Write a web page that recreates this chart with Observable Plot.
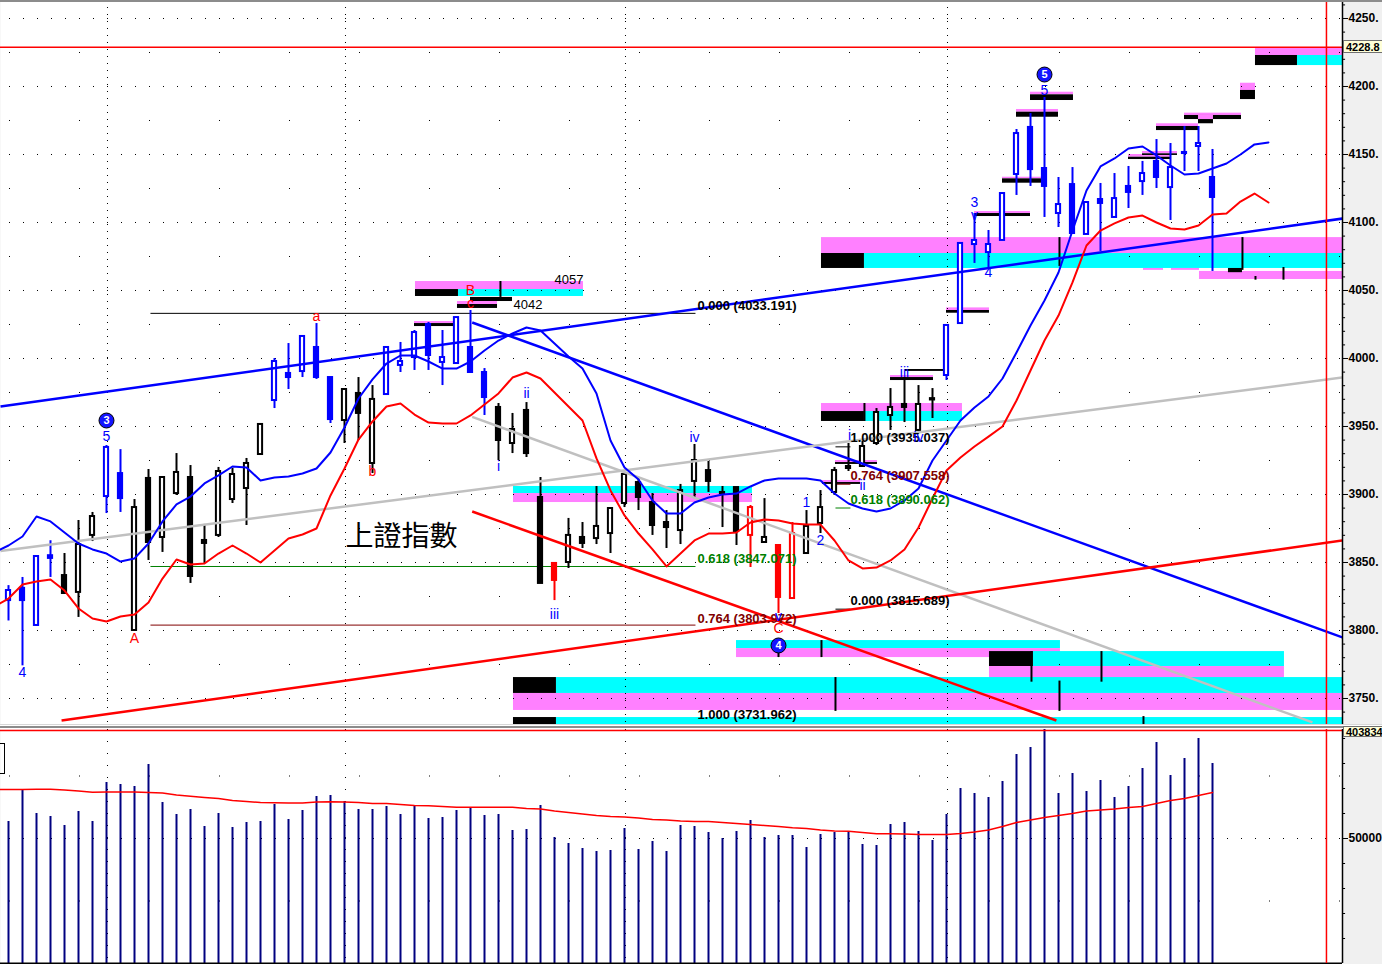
<!DOCTYPE html>
<html>
<head>
<meta charset="utf-8">
<script src="https://cdn.jsdelivr.net/npm/d3@7"></script>
<script src="https://cdn.jsdelivr.net/npm/@observablehq/plot@0.6"></script>
<style>
  html, body { margin: 0; padding: 0; background: #ffffff; overflow: hidden; }
  #wrap { position: relative; width: 1382px; height: 964px; overflow: hidden; font-family: "Liberation Sans", Arial, sans-serif; }
  #wrap svg { display: block; }
  .sep { height: 5px; background: linear-gradient(#d8d8d8 0 1px, #ffffff 1px 2px, #8c8c8c 2px 4px, #ffffff 4px 5px); }
  .topbar { position: absolute; left: 0; top: 0; width: 1382px; height: 2px; background: #8c8c8c; }
  .tag { position: absolute; left: 1343px; width: 60px; height: 13px; line-height: 12px; background: #ffffd8; border: 1px solid #707070; font: bold 11px "Liberation Sans", Arial, sans-serif; padding-left: 2px; box-sizing: border-box; color: #000; white-space: nowrap; }
  .legendbox { position: absolute; left: -1px; width: 6px; height: 31px; border: 1px solid #000; box-sizing: border-box; }
</style>
</head>
<body>
<div id="wrap"></div>
<script>
(function () {
// ---------- candle data (one entry per session, index 0..86) ----------
const openP = [3822.0, 3831.0, 3803.7, 3855.0, 3840.4, 3828.0, 3869.9, 3898.5, 3915.4, 3800.0,
 3911.8, 3868.4, 3900.7, 3912.5, 3866.2, 3869.9, 3896.3, 3904.4, 3929.4, 3969.1,
 3989.0, 3990.4, 4008.1, 3986.0, 3954.4, 3974.3, 3922.8, 3973.5, 3994.9, 4000.7,
 4025.0, 3997.1, 3996.3, 4008.1, 3989.7, 3964.0, 3937.5, 3961.8, 3897.8, 3849.3,
 3850.0, 3868.4, 3867.6, 3871.3, 3893.4, 3908.8, 3894.1, 3879.4, 3873.5, 3909.6,
 3917.6, 3901.5, 3905.1, 3869.9, 3864.7, 3862.5, 3823.5, 3856.6, 3878.7, 3901.5,
 3920.6, 3920.6, 3937.5, 3958.1, 3966.2, 3947.1, 3970.5, 3987.5, 4025.7, 4083.8,
 4077.9, 4086.8, 4135.3, 4169.9, 4139.7, 4106.6, 4127.9, 4091.2, 4116.9, 4103.7,
 4126.5, 4130.1, 4144.9, 4125.7, 4151.5, 4155.9, 4133.1];
const closeP = [3829.4, 3822.0, 3854.4, 3853.0, 3827.2, 3863.2, 3883.8, 3934.6, 3897.0, 3890.4,
 3864.7, 3912.5, 3916.2, 3839.7, 3864.0, 3916.9, 3914.7, 3922.8, 3951.5, 3997.8,
 3986.0, 4016.2, 3986.0, 3955.1, 3977.2, 3959.6, 3969.9, 4008.1, 3997.8, 4019.1,
 4002.2, 4000.7, 4030.1, 3989.7, 3971.3, 3939.7, 3947.8, 3930.1, 3834.6, 3836.8,
 3869.9, 3864.0, 3876.5, 3889.7, 3914.7, 3897.8, 3877.2, 3875.7, 3902.9, 3925.0,
 3909.6, 3900.7, 3872.8, 3890.4, 3868.4, 3824.3, 3871.3, 3876.5, 3890.4, 3917.6,
 3919.1, 3935.3, 3960.3, 3964.0, 3964.0, 3966.2, 3969.5, 4024.3, 4084.6, 4086.8,
 4083.8, 4121.3, 4165.4, 4138.9, 4126.5, 4113.2, 4091.9, 4114.7, 4114.0, 4117.6,
 4122.1, 4136.0, 4133.1, 4140.4, 4150.7, 4158.1, 4118.4];
const highP = [3833.0, 3839.0, 3855.0, 3866.0, 3856.6, 3880.9, 3886.8, 3936.0, 3933.0, 3896.3,
 3918.4, 3912.5, 3930.1, 3921.3, 3878.0, 3919.9, 3919.1, 3926.5, 3951.5, 4000.0,
 4011.0, 4016.2, 4025.7, 3986.0, 3977.2, 3986.0, 3980.1, 4008.1, 4011.8, 4020.6,
 4026.5, 4020.6, 4030.1, 4035.3, 3992.6, 3966.9, 3959.6, 3967.6, 3912.5, 3849.3,
 3882.4, 3879.4, 3905.9, 3889.7, 3915.0, 3912.5, 3900.7, 3888.2, 3907.4, 3936.8,
 3924.3, 3905.9, 3905.1, 3891.9, 3897.0, 3862.5, 3879.4, 3888.2, 3902.9, 3919.9,
 3937.5, 3940.4, 3963.2, 3977.9, 3986.0, 3980.1, 3977.9, 4024.3, 4084.6, 4106.6,
 4094.1, 4121.3, 4168.4, 4180.1, 4191.9, 4133.1, 4140.4, 4114.7, 4128.7, 4136.0,
 4141.2, 4144.9, 4161.0, 4158.1, 4170.6, 4170.6, 4153.7];
const lowP = [3807.0, 3774.0, 3803.0, 3839.0, 3827.2, 3809.6, 3865.4, 3886.0, 3886.8, 3800.0,
 3851.5, 3857.4, 3899.3, 3834.6, 3849.3, 3868.4, 3893.4, 3877.2, 3929.4, 3963.2,
 3977.2, 3986.0, 3984.6, 3952.2, 3937.5, 3939.7, 3915.4, 3973.5, 3989.7, 3991.2,
 3991.2, 3980.1, 3996.3, 3989.7, 3958.1, 3925.0, 3930.1, 3927.2, 3834.6, 3822.0,
 3845.6, 3860.3, 3863.2, 3856.6, 3890.4, 3888.2, 3869.9, 3860.3, 3863.2, 3897.8,
 3901.5, 3875.7, 3862.5, 3846.3, 3864.7, 3812.5, 3823.5, 3856.6, 3871.3, 3899.3,
 3916.9, 3920.0, 3936.0, 3947.1, 3952.9, 3947.1, 3955.9, 3983.8, 4025.7, 4069.9,
 4066.9, 4086.8, 4119.9, 4126.5, 4103.7, 4096.3, 4091.9, 4091.2, 4078.7, 4103.7,
 4110.3, 4119.9, 4125.0, 4101.5, 4137.5, 4137.5, 4064.0];
// b = blue, k = black, r = red (wave colouring of each candle)
const candleTone = ("bbbb" + "kkk" + "bb" + "kkkkkkkkkk" + "bbbbb" + "kkk" + "bbbbbbbb" + "kkkk" + "r" +
  "kkkkkkkkkkkkk" + "r" + "k" + "rr" + "kkkkkkkkkk" + "bbbbbbbbbbbbbbbbbbbb").split("");
const volume = [56800, 69600, 60000, 58800, 55200, 60800, 56800, 72400, 71600, 70800,
 79600, 64400, 59600, 61600, 54800, 60000, 54400, 56400, 56800, 63600,
 57600, 61200, 66800, 67200, 64800, 61600, 61600, 62800, 59600, 63200,
 58000, 58400, 61200, 62000, 59200, 59600, 53200, 53600, 63200, 50400,
 48000, 46000, 44800, 45200, 54000, 45600, 48800, 44800, 55200, 54800,
 52400, 50000, 52800, 57200, 50400, 51200, 51200, 46400, 51600, 52400,
 52400, 47600, 47200, 55600, 56400, 52800, 49200, 59600, 70000, 68000,
 66400, 72800, 83600, 86400, 94400, 68000, 76000, 68800, 73200, 66400,
 70800, 78000, 88400, 75200, 82000, 90000, 80000];

// ---------- moving averages (index -1 .. end, forward shifted) ----------
const blueMA = [3857.4, 3862.5, 3869.1, 3883.8, 3880.2, 3872.1, 3864.0, 3859.6, 3856.6, 3850.7,
 3853.0, 3864.0, 3880.2, 3892.7, 3898.5, 3908.1, 3914.0, 3920.6, 3919.9, 3910.3,
 3912.5, 3913.2, 3915.4, 3919.1, 3930.9, 3949.3, 3970.6, 3984.6, 3996.3, 4002.2,
 4002.2, 3997.8, 3992.6, 3992.6, 3997.8, 4005.9, 4013.2, 4018.4, 4022.8, 4020.6,
 4011.0, 4001.5, 3992.6, 3974.3, 3939.7, 3919.9, 3911.0, 3895.6, 3886.0, 3886.0,
 3894.1, 3897.8, 3900.0, 3900.7, 3905.9, 3910.3, 3911.8, 3911.8, 3911.8, 3910.3,
 3900.7, 3893.4, 3889.7, 3887.5, 3889.7, 3895.6, 3904.4, 3925.0, 3939.7, 3954.4,
 3964.0, 3972.1, 3985.3, 4004.4, 4024.3, 4042.6, 4063.2, 4094.1, 4123.5, 4141.2,
 4147.1, 4154.4, 4155.9, 4149.3, 4141.9, 4135.3, 4136.0, 4139.7, 4143.4, 4150.0,
 4157.4, 4158.8];
const redMA = [3817.6, 3823.5, 3833.8, 3836.0, 3837.5, 3829.4, 3816.2, 3808.8, 3806.6, 3810.3,
 3811.8, 3820.6, 3838.2, 3852.2, 3848.5, 3849.3, 3856.6, 3862.5, 3856.6, 3850.0,
 3858.8, 3867.6, 3870.6, 3875.0, 3899.3, 3919.1, 3940.4, 3953.7, 3964.7, 3966.9,
 3958.8, 3952.9, 3952.2, 3952.2, 3958.1, 3966.2, 3974.3, 3986.0, 3989.7, 3985.3,
 3975.0, 3964.7, 3954.4, 3926.5, 3903.0, 3884.6, 3871.3, 3859.6, 3847.1, 3856.6,
 3866.2, 3871.3, 3871.3, 3872.1, 3879.4, 3881.6, 3880.9, 3878.7, 3877.9, 3877.9,
 3866.2, 3851.5, 3845.6, 3846.3, 3851.5, 3859.6, 3875.7, 3897.1, 3917.6, 3927.2,
 3935.3, 3942.6, 3950.0, 3969.1, 3991.2, 4013.2, 4031.6, 4055.9, 4083.1, 4094.1,
 4099.3, 4103.7, 4105.1, 4100.0, 4095.6, 4094.9, 4097.8, 4105.9, 4106.6, 4115.4,
 4121.3, 4114.7];
const volMA = [69600, 69600, 69600, 69720, 69720, 69400, 69000, 68520, 68600, 68600,
 68600, 68400, 68200, 67400, 66920, 66400, 66000, 65200, 64800, 64400,
 64280, 64200, 64200, 64600, 64680, 64600, 64400, 64000, 64000, 63600,
 63200, 63080, 62800, 62520, 62520, 62520, 62520, 62520, 62000, 61800,
 61000, 60400, 59800, 59200, 58800, 58600, 58200, 57600, 57400, 57000,
 56800, 56800, 56400, 56000, 55600, 55200, 54800, 54280, 54000, 53400,
 53000, 52920, 52400, 51880, 51880, 51800, 51600, 51600, 51600, 52000,
 52600, 53400, 54800, 56400, 57400, 58400, 59200, 60000, 61000, 61400,
 61800, 62400, 62800, 64000, 65200, 66000, 67200, 68400];

// ---------- axes / grid values ----------
const priceTicks = [3750, 3800, 3850, 3900, 3950, 4000, 4050, 4100, 4150, 4200, 4250];
const priceHalfRows = [3775, 3825, 3875, 3925, 3975, 4025, 4075, 4125, 4175, 4225];
const priceMinorTicks = d3.range(3740, 4261, 10).filter(v => v % 50 !== 0);
const volumeTicks = [50000];
const volumeHalfRows = [25000, 75000];
const volumeMinorTicks = [10000, 20000, 30000, 40000, 60000, 70000, 80000, 90000];
const monthStarts = [7, 24, 44, 67];
const lastPrice = 4228.8;
const lastVolumeMark = 93200;
const lastVolumeText = "403834";
const cursorIndex = 94.14;

// ---------- drawn objects ----------
const trendLines = [
  [-0.5714, 3964.7, 95.2857, 4102.9, "#0000ff"],
  [33.12, 4026.5, 95.2857, 3794.9, "#0000ff"],
  [33.12, 3957.1, 93.14, 3732.4, "#c0c0c0"],
  [-0.5714, 3858.4, 95.2857, 3986.0, "#c0c0c0"],
  [33.12, 3887.5, 74.85, 3733.8, "#ff0000"],
  [3.79, 3733.8, 95.2857, 3866.2, "#ff0000"]
];
const fibLines = [
  [10.14, 49.07, 4033.191, "#000000"],
  [10.14, 49.07, 3847.06, "#008000"],
  [10.14, 49.07, 3803.972, "#800000"],
  [59.07, 60.14, 3815.689, "#000000"],
  [59.07, 60.14, 3890.062, "#008000"],
  [59.07, 60.14, 3907.558, "#800000"],
  [59.07, 60.14, 3935.037, "#000000"]
];
const fibLabels = [
  [49.21, 4039.0, "0.000 (4033.191)", "#000000"],
  [49.21, 3852.9, "0.618 (3847.071)", "#008000"],
  [49.21, 3808.8, "0.764 (3803.972)", "#800000"],
  [49.21, 3738.2, "1.000 (3731.962)", "#000000"],
  [60.14, 3822.0, "0.000 (3815.689)", "#000000"],
  [60.14, 3941.9, "1.000 (3935.037)", "#000000"],
  [60.14, 3914.0, "0.764 (3907.558)", "#800000"],
  [60.14, 3896.3, "0.618 (3890.062)", "#008000"]
];
const PK = "#ff80ff", CY = "#00ffff", BK = "#000000";
const zones = [
  [29.07, 41.07, 4050.7, 4056.6, PK], [32.14, 41.07, 4045.6, 4050.7, CY], [29.07, 32.14, 4045.6, 4050.7, BK],
  [33.0, 36.0, 4041.9, 4044.9, BK], [32.07, 34.93, 4039.7, 4041.9, PK], [32.07, 34.93, 4036.8, 4039.7, BK],
  [29.0, 32.0, 4025.7, 4027.2, PK], [29.0, 32.0, 4023.5, 4025.7, BK],
  [36.07, 53.14, 3900.7, 3905.9, CY], [36.07, 53.14, 3894.1, 3900.7, PK],
  [58.07, 68.14, 3961.0, 3966.9, PK], [58.07, 61.14, 3953.7, 3961.0, BK], [61.14, 68.14, 3953.7, 3961.0, CY],
  [58.14, 60.86, 3908.8, 3910.3, PK], [58.14, 60.86, 3907.4, 3908.8, BK],
  [59.07, 62.07, 3923.5, 3925.0, PK], [59.07, 62.07, 3922.1, 3923.5, BK],
  [63.0, 66.07, 3986.0, 3987.5, PK], [63.0, 66.07, 3983.8, 3986.0, BK], [64.07, 66.93, 3990.5, 3991.9, BK],
  [67.0, 70.07, 4035.3, 4037.2, PK], [67.0, 70.07, 4033.3, 4035.3, BK],
  [69.0, 73.0, 4106.6, 4108.1, PK], [69.0, 73.0, 4104.4, 4106.6, BK],
  [71.0, 73.86, 4132.1, 4133.3, PK], [71.0, 73.86, 4128.9, 4132.1, BK],
  [72.0, 75.0, 4181.1, 4183.1, PK], [72.0, 75.0, 4177.4, 4181.1, BK],
  [73.0, 76.07, 4193.9, 4195.8, PK], [73.0, 76.07, 4189.7, 4193.9, BK],
  [80.0, 83.0, 4148.0, 4150.0, PK], [80.0, 83.0, 4146.3, 4148.0, BK],
  [81.0, 83.5, 4150.5, 4152.2, PK], [81.0, 83.5, 4149.3, 4150.5, BK],
  [82.0, 85.0, 4170.6, 4172.6, PK], [82.0, 85.0, 4167.6, 4170.6, BK],
  [84.0, 88.07, 4178.7, 4180.4, PK], [84.0, 88.07, 4175.7, 4178.7, BK],
  [85.0, 86.07, 4175.7, 4178.7, PK], [85.0, 86.07, 4172.6, 4175.7, BK],
  [88.0, 89.07, 4197.1, 4202.4, PK], [88.0, 89.07, 4190.4, 4197.1, BK],
  [89.07, 95.29, 4222.8, 4228.4, PK], [89.07, 92.07, 4215.4, 4222.8, BK], [92.07, 95.29, 4215.4, 4222.8, CY],
  [58.07, 95.29, 4077.2, 4088.9, PK], [58.07, 61.14, 4066.2, 4077.2, BK], [61.14, 95.29, 4066.2, 4077.2, CY],
  [81.07, 82.5, 4064.8, 4066.2, PK], [83.07, 85.07, 4064.8, 4066.2, PK], [85.07, 95.29, 4058.1, 4064.0, PK],
  [87.14, 88.14, 4063.1, 4066.2, BK],
  [52.0, 75.14, 3786.7, 3792.6, CY], [52.0, 75.14, 3780.1, 3786.7, PK],
  [70.07, 73.21, 3773.5, 3784.5, BK], [73.21, 91.14, 3773.5, 3784.5, CY], [70.07, 91.14, 3764.0, 3773.5, PK],
  [36.07, 39.14, 3753.7, 3765.4, BK], [39.14, 95.29, 3753.7, 3765.4, CY], [36.07, 95.29, 3741.2, 3753.7, PK],
  [36.07, 39.14, 3730.0, 3736.0, BK], [39.14, 95.29, 3730.0, 3736.0, CY]
];
const zoneMarks = [
  [35.14, 4044.9, 4056.6], [58.07, 3780.1, 3792.6], [55.0, 3780.1, 3792.6], [59.07, 3740.5, 3765.4],
  [73.07, 3762.0, 3784.5], [78.07, 3762.0, 3784.5], [75.07, 3740.5, 3762.8], [81.07, 3730.9, 3736.7],
  [75.07, 4067.6, 4088.9], [88.14, 4064.8, 4088.9], [89.07, 4057.6, 4060.3], [91.07, 4057.6, 4066.9],
  [61.14, 3953.7, 3966.9]
];
const B = "#0000ff", R = "#ff0000";
const waveLabels = [
  [7, 3942.6, "5", B], [1, 3769.1, "4", B], [9, 3794.1, "A", R], [22, 4030.9, "a", R],
  [26, 3916.9, "b", R], [33, 4050.0, "B", R], [33, 4040.4, "c", R], [35, 3920.6, "i", B],
  [37, 3974.3, "ii", B], [39, 3811.8, "iii", B], [49, 3941.9, "iv", B], [55, 3810.3, "v", B],
  [55, 3801.5, "C", R], [57, 3894.1, "1", B], [58, 3866.2, "2", B], [60.07, 3943.4, "i", B],
  [61, 3906.6, "ii", B], [64, 3989.7, "iii", B], [65, 3941.9, "iv", B], [69, 4114.7, "3", B],
  [69, 4105.1, "v", B], [70, 4063.2, "4", B], [74, 4197.1, "5", B]
];
const waveCircles = [[7, 3954.4, "3"], [55, 3789.0, "4"], [74, 4208.8, "5"]];
const levelLabelsEnd = [[41.07, 4058.1, "4057"]];
const levelLabelsStart = [[36.07, 4039.7, "4042"]];
const chartTitle = [[24.07, 3868.4, "上證指數"]];

// ---------- build ----------
const toneColor = {b: "#0000ff", k: "#000000", r: "#ff0000"};
const idx = d3.range(openP.length);
const shifted = arr => arr.map((v, k) => ({i: k - 1, v}));
const xDomain = [-0.5714, 95.2857];
const tickLen = 0.22; // minor tick length in index units (about 3px)
const textFont = "Liberation Sans, Arial, sans-serif";
const narrowFont = "Liberation Sans Narrow, Arial Narrow, Liberation Sans, sans-serif";

const price = Plot.plot({
  width: 1382, height: 724,
  marginTop: 0, marginRight: 40, marginBottom: 0, marginLeft: 0,
  style: {background: "#f0f0f0", fontFamily: textFont, overflow: "hidden"},
  x: {domain: xDomain, axis: null, label: null},
  y: {domain: [3730.88, 4263.235], axis: null, label: null},
  color: {type: "identity"},
  marks: [
    Plot.frame({fill: "#ffffff", stroke: null}),
    Plot.rect(zones, {x1: d => d[0], x2: d => d[1], y1: d => d[2], y2: d => d[3], fill: d => d[4], clip: true}),
    Plot.ruleY(priceTicks, {stroke: "#000", strokeDasharray: "1 13", strokeDashoffset: 5}),
    Plot.ruleY(priceHalfRows, {stroke: "#000", strokeDasharray: "1 69", strokeDashoffset: 61}),
    Plot.ruleX(monthStarts, {stroke: "#000", strokeDasharray: "1 6", dx: 1}),
    Plot.ruleX(zoneMarks, {x: d => d[0], y1: d => d[1], y2: d => d[2], stroke: "#000", strokeWidth: 2}),
    Plot.link(fibLines, {x1: d => d[0], x2: d => d[1], y1: d => d[2], y2: d => d[2], stroke: d => d[3], strokeWidth: 1}),
    Plot.ruleX(idx, {x: i => i, y1: i => lowP[i], y2: i => highP[i], stroke: i => toneColor[candleTone[i]], strokeWidth: 2}),
    Plot.rect(idx, {
      x1: i => i - 0.15, x2: i => i + 0.15, y1: i => openP[i], y2: i => closeP[i],
      fill: i => closeP[i] > openP[i] ? "#ffffff" : toneColor[candleTone[i]],
      stroke: i => toneColor[candleTone[i]], strokeWidth: 2
    }),
    Plot.link(trendLines, {x1: d => d[0], y1: d => d[1], x2: d => d[2], y2: d => d[3], stroke: d => d[4], strokeWidth: 2.5, clip: true}),
    Plot.line(shifted(blueMA), {x: "i", y: "v", stroke: "#0000ff", strokeWidth: 2, clip: true}),
    Plot.line(shifted(redMA), {x: "i", y: "v", stroke: "#ff0000", strokeWidth: 2, clip: true}),
    Plot.ruleY([lastPrice], {stroke: "#ff0000", strokeWidth: 1.5}),
    Plot.ruleX([cursorIndex], {stroke: "#ff0000", strokeWidth: 1.5}),
    Plot.text(fibLabels, {x: d => d[0], y: d => d[1], text: d => d[2], fill: d => d[3], textAnchor: "start", fontFamily: narrowFont, fontWeight: "bold", fontSize: 13}),
    Plot.text(levelLabelsEnd, {x: d => d[0], y: d => d[1], text: d => d[2], textAnchor: "end", fill: "#000", fontSize: 13}),
    Plot.text(levelLabelsStart, {x: d => d[0], y: d => d[1], text: d => d[2], textAnchor: "start", fill: "#000", fontSize: 13}),
    Plot.text(waveLabels, {x: d => d[0], y: d => d[1], text: d => d[2], fill: d => d[3], fontSize: 14, fontFamily: textFont}),
    Plot.dot(waveCircles, {x: d => d[0], y: d => d[1], r: 7.5, fill: "#1414ff", stroke: "#000", strokeWidth: 1}),
    Plot.text(waveCircles, {x: d => d[0], y: d => d[1], text: d => d[2], fill: "#ffffff", fontWeight: "bold", fontSize: 11}),
    Plot.text(chartTitle, {x: d => d[0], y: d => d[1], text: d => d[2], textAnchor: "start", fill: "#000", fontSize: 28, fontFamily: "Noto Sans CJK TC, Noto Sans CJK SC, sans-serif"}),
    Plot.ruleX([xDomain[1]], {stroke: "#000", strokeWidth: 1.5}),
    Plot.ruleY(priceMinorTicks, {x1: xDomain[1], x2: xDomain[1] + tickLen, stroke: "#000"}),
    Plot.axisY({anchor: "right", label: null, ticks: priceTicks, tickSize: 5, tickPadding: 1, tickFormat: d => d + ".", fontSize: 12, fontWeight: "bold", fontFamily: textFont})
  ]
});

const vol = Plot.plot({
  width: 1382, height: 235,
  marginTop: 0, marginRight: 40, marginBottom: 1, marginLeft: 0,
  style: {background: "#f0f0f0", fontFamily: textFont, overflow: "hidden"},
  x: {domain: xDomain, axis: null, label: null},
  y: {domain: [0, 93600], axis: null, label: null},
  color: {type: "identity"},
  marks: [
    Plot.frame({fill: "#ffffff", stroke: null}),
    Plot.ruleY(volumeTicks, {stroke: "#000", strokeDasharray: "1 13", strokeDashoffset: 5}),
    Plot.ruleY(volumeHalfRows, {stroke: "#000", strokeDasharray: "1 69", strokeDashoffset: 61}),
    Plot.ruleX(monthStarts, {stroke: "#000", strokeDasharray: "1 11", dx: 1}),
    Plot.ruleX(idx, {x: i => i, y1: 0, y2: i => volume[i], stroke: "#000080", strokeWidth: 2, clip: true}),
    Plot.line(shifted(volMA), {x: "i", y: "v", stroke: "#ff0000", strokeWidth: 1.5}),
    Plot.ruleY([lastVolumeMark], {stroke: "#ff0000", strokeWidth: 1.5}),
    Plot.ruleY([0], {stroke: "#000", strokeWidth: 2}),
    Plot.ruleX([cursorIndex], {stroke: "#ff0000", strokeWidth: 1.5}),
    Plot.ruleX([xDomain[1]], {stroke: "#000", strokeWidth: 1.5}),
    Plot.ruleY(volumeMinorTicks, {x1: xDomain[1], x2: xDomain[1] + tickLen, stroke: "#000"}),
    Plot.axisY({anchor: "right", label: null, ticks: volumeTicks, tickSize: 5, tickPadding: 1, tickFormat: d => String(d), fontSize: 12, fontWeight: "bold", fontFamily: textFont})
  ]
});

const wrap = document.getElementById("wrap");
const sep = document.createElement("div");
sep.className = "sep";
wrap.append(price, sep, vol);

const topBar = document.createElement("div");
topBar.className = "topbar";
wrap.append(topBar);

const yPrice = price.scale("y");
const tag1 = document.createElement("div");
tag1.className = "tag";
tag1.style.top = (yPrice.apply(lastPrice) - 7) + "px";
tag1.textContent = lastPrice.toFixed(1);
wrap.append(tag1);

const yVol = vol.scale("y");
const tag2 = document.createElement("div");
tag2.className = "tag";
tag2.style.top = (729 + yVol.apply(lastVolumeMark) - 4) + "px";
tag2.style.height = "11px";
tag2.style.lineHeight = "10px";
tag2.textContent = lastVolumeText;
wrap.append(tag2);

const lb = document.createElement("div");
lb.className = "legendbox";
lb.style.top = "743px";
wrap.append(lb);
})();
</script>
</body>
</html>
